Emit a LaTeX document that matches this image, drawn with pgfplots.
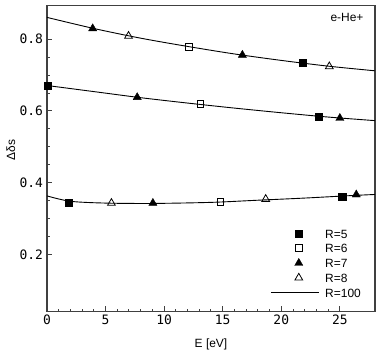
\documentclass[border=0pt]{standalone}
\usepackage{fontspec}
\setmainfont{Liberation Sans}
\newfontfamily\tickfont{DejaVu Sans Mono}
\usepackage{pgfplots}
\pgfplotsset{compat=1.18}

\pgfplotsset{
  mk/.style={only marks, black, mark size=#1,
    legend image code/.code={\draw[mark repeat=2,mark phase=2,##1] plot coordinates {(0bp,0bp)(28bp,0bp)(48bp,0bp)};}},
  ln/.style={black, line width=0.9bp, smooth, no marks,
    legend image code/.code={\draw[##1] (0bp,0bp) -- (48bp,0bp);}},
}

\begin{document}
\begin{tikzpicture}
\useasboundingbox (-47bp,-47.3bp) rectangle (335bp,311.7bp);
\begin{axis}[
  scale only axis, width=328bp, height=306.5bp,
  xmin=0, xmax=28, ymin=0.04, ymax=0.895,
  xtick={0,5,...,25}, minor x tick num=4,
  ytick={0.2,0.4,0.6,0.8}, minor y tick num=3,
  tick pos=left, tick align=inside,
  major tick length=5.5bp, minor tick length=3bp,
  axis line style={line width=1.2bp, draw=black!75},
  tick style={line width=1bp, draw=black!75},
  /pgf/number format/assume math mode=true,
  /pgf/number format/fixed, /pgf/number format/precision=1,
  tick label style={font=\tickfont\fontsize{13}{15}\selectfont},
  yticklabel style={xshift=-0.5bp},
  font=\fontsize{12}{14}\selectfont,
  xlabel={E [eV]},
  xlabel style={at={(axis description cs:0.5,0)}, anchor=center, yshift=-32.3bp},
  ylabel={Δδs},
  ylabel style={at={(axis description cs:-0.11,0.528)}, anchor=center},
  legend style={at={(rel axis cs:1,0)}, anchor=south east, xshift=-11bp, yshift=12.5bp,
    draw=none, fill=none, font=\fontsize{12}{14}\selectfont,
    nodes={inner sep=0pt, text height=9bp, text depth=0bp},
    row sep=5.7bp, column sep=6bp},
  legend cell align=left,
]
% R=5 filled squares
\addplot[mk=3.6bp, mark=square*] coordinates {
  (21.85,0.735) (0.05,0.670) (23.16,0.585) (1.82,0.343) (25.2,0.361)};
\addlegendentry{R=5}
% R=6 open squares
\addplot[mk=3.4bp, mark=square, mark options={fill=white, line width=0.8bp}] coordinates {
  (12.13,0.779) (13.1,0.619) (14.8,0.347)};
\addlegendentry{R=6}
% R=7 filled triangles
\addplot[mk=4.7bp, mark=triangle*] coordinates {
  (3.9,0.830) (16.68,0.756) (7.7,0.638) (25.0,0.580) (9.04,0.343) (26.4,0.3665)};
\addlegendentry{R=7}
% R=8 open triangles
\addplot[mk=4.5bp, mark=triangle, mark options={fill=white, line width=0.8bp}] coordinates {
  (6.96,0.809) (24.1,0.724) (5.5,0.343) (18.67,0.354)};
\addlegendentry{R=8}
% R=100 curves
\addplot[ln] coordinates {
  (0,0.861) (4,0.830) (8,0.803) (12,0.780) (16,0.759) (20,0.741) (24,0.725) (28,0.712)};
\addlegendentry{R=100}
\addplot[ln, forget plot] coordinates {
  (0,0.671) (4,0.654) (8,0.637) (12,0.622) (16,0.608) (20,0.595) (24,0.583) (28,0.573)};
\addplot[ln, forget plot] coordinates {
  (0,0.363) (2,0.348) (5,0.343) (9,0.342) (14,0.345) (18,0.351) (22,0.357) (26,0.364) (28,0.367)};
\node[anchor=east, font=\fontsize{12}{14}\selectfont] at (rel axis cs:1,1) [xshift=-8bp, yshift=-12bp] {e-He+};
\end{axis}
\end{tikzpicture}
\end{document}
